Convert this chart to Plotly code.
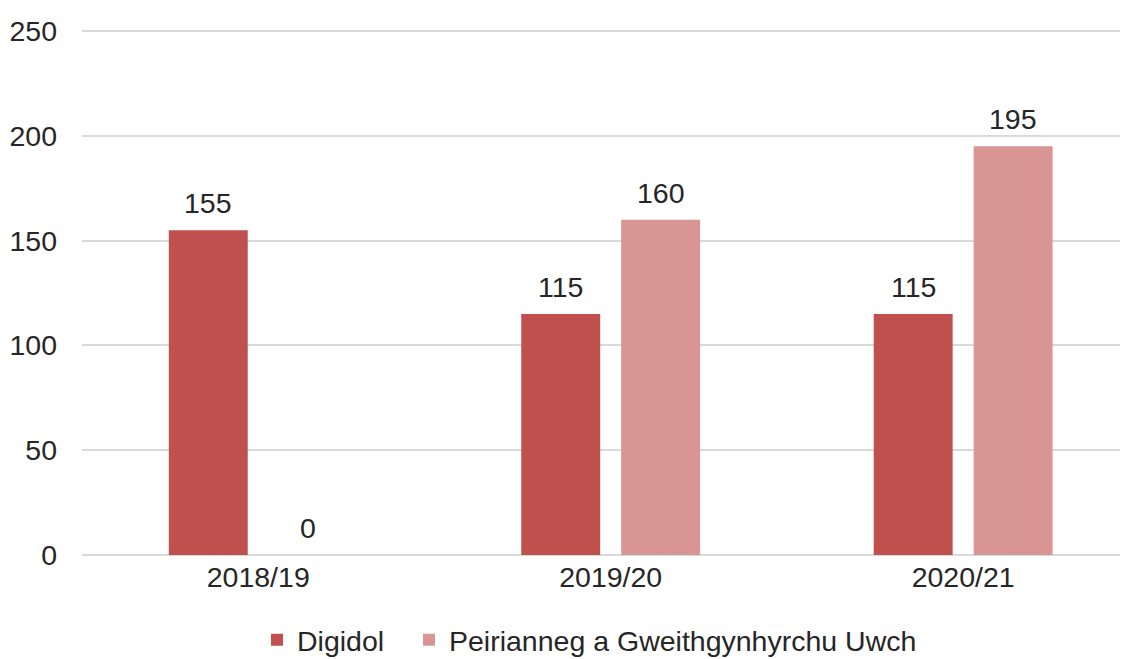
import plotly.graph_objects as go

categories = ["2018/19", "2019/20", "2020/21"]
digidol = [155, 115, 115]
peirianneg = [0, 160, 195]
series_names = ["Digidol", "Peirianneg a Gweithgynhyrchu Uwch"]
y_ticks = [0, 50, 100, 150, 200, 250]

FONT = "Liberation Sans, Arial, sans-serif"
TXT = "#262626"
FS = 28.5

fig = go.Figure()
fig.add_trace(go.Bar(
    x=categories, y=digidol, name=series_names[0],
    marker=dict(color="#C0504D", line=dict(width=0)),
    legendwidth=107,
))
fig.add_trace(go.Bar(
    x=categories, y=peirianneg, name=series_names[1],
    marker=dict(color="#D99594", line=dict(width=0)),
))

# data labels above each bar (offset by half the bar slot to either side)
for vals, shift in ((digidol, -50), (peirianneg, 50)):
    for c, v in zip(categories, vals):
        fig.add_annotation(x=c, y=v, xref="x", yref="y", text=str(v), showarrow=False,
                           xshift=shift, yshift=9, yanchor="bottom",
                           font=dict(family=FONT, size=FS, color=TXT))

fig.update_layout(
    width=1112, height=651,
    margin=dict(l=74, r=0, t=21, b=104, autoexpand=False),
    paper_bgcolor="white", plot_bgcolor="white",
    barmode="group", bargap=0.433, bargroupgap=0.21,
    font=dict(family=FONT, size=FS, color=TXT),
    showlegend=True,
    legend=dict(orientation="h", x=0.1686, xanchor="left", y=-0.162, yanchor="middle",
                font=dict(family=FONT, size=FS, color=TXT), traceorder="normal"),
)
fig.update_xaxes(
    type="category", range=[-0.5, 2.445], showgrid=False, showline=False, automargin=False,
    ticks="", ticklabelstandoff=2, tickfont=dict(family=FONT, size=FS, color=TXT), fixedrange=True,
)
fig.update_yaxes(
    range=[0, 251], tickvals=y_ticks, showgrid=True, gridcolor="#D9D9D9", gridwidth=1.5,
    zeroline=True, zerolinecolor="#D9D9D9", zerolinewidth=1.5, showline=False, automargin=False,
    ticks="", ticklabelstandoff=24, tickfont=dict(family=FONT, size=FS, color=TXT),
)

fig.write_html("out.html")
